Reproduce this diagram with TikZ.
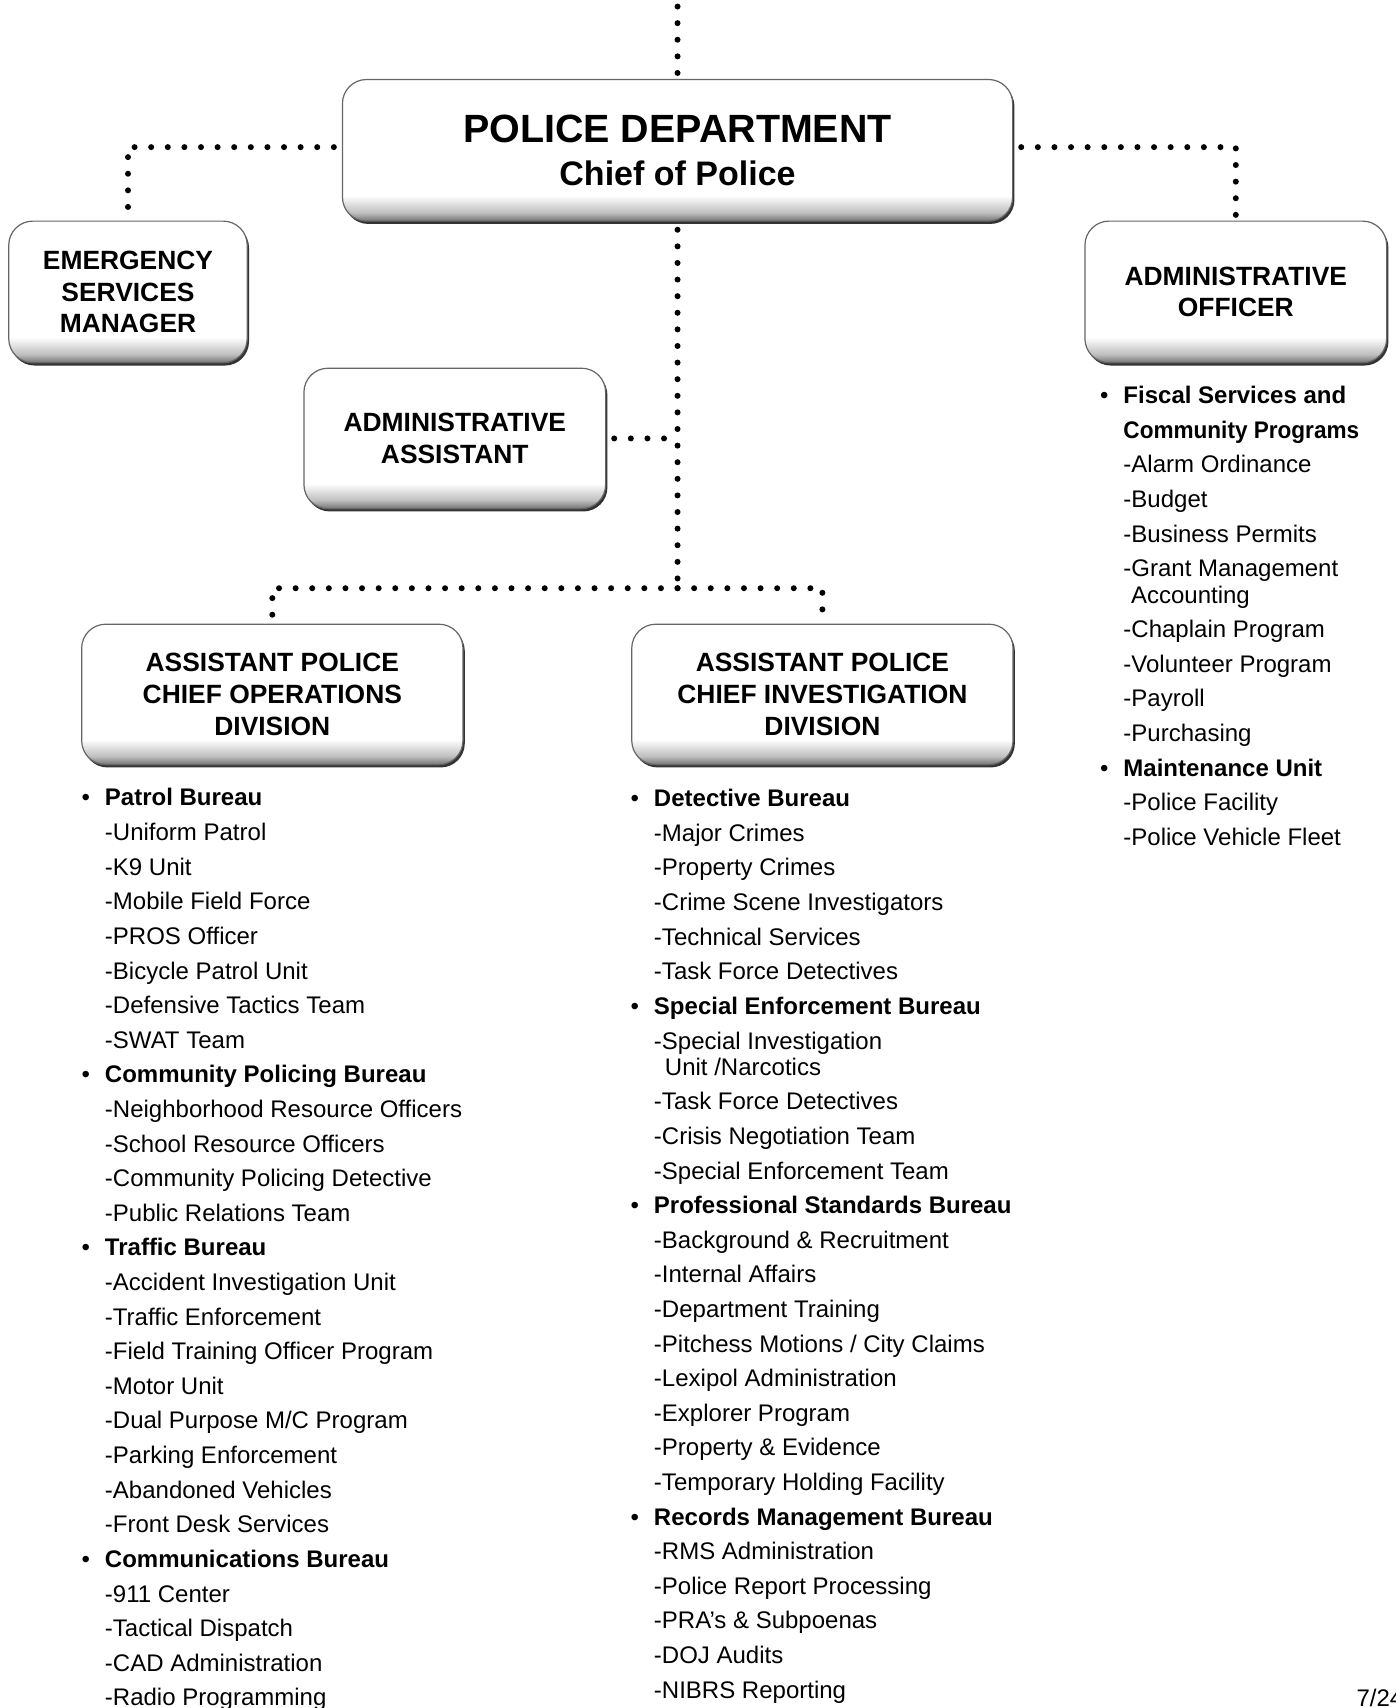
\documentclass[tikz,border=0pt]{standalone}
\usepackage{tikz}
\usepackage{xcolor}
\usepackage{fontspec}
\setmainfont{Liberation Sans}
\usetikzlibrary{shadows}

\pgfdeclareverticalshading{boxshade}{100bp}{color(0bp)=(black!55); color(25bp)=(black!55); color(28bp)=(black!25); color(34bp)=(white); color(100bp)=(white)}

\newcommand{\bureau}[1]{\llap{\textbullet\hspace{7.5pt}}\textbf{#1}}

\tikzset{
	unitbox/.style={rounded corners=12pt, draw=black!60, line width=0.6pt, shading=boxshade,
		drop shadow={shadow xshift=0.9pt, shadow yshift=-1.4pt, opacity=1, fill=black!80},
		align=center, inner sep=0pt, font=\fontsize{13.2}{15.8}\selectfont\bfseries},
	dotline/.style={line width=3pt, line cap=round, dash pattern=on 0pt off 8.3pt, shorten >=3pt},
	unitlist/.style={anchor=base west, align=left, inner sep=0pt, font=\fontsize{12}{17.3}\selectfont}
}

\begin{document}
\begin{tikzpicture}[x=0.5445pt, y=-0.5445pt]
			\useasboundingbox (0,0) rectangle (1281,1568);
			
			\node[unitbox, minimum width=335pt, minimum height=70.8pt, font=\fontsize{17}{21.8}\selectfont\bfseries] (chief) at (622,138)
				{{\fontsize{19.7}{21.8}\selectfont POLICE DEPARTMENT}\\Chief of Police};
			\node[unitbox, minimum width=119.2pt, minimum height=70.8pt] (ems) at (117.5,268) {EMERGENCY\\SERVICES\\MANAGER};
			\node[unitbox, minimum width=150.8pt, minimum height=70.8pt] (aoff) at (1134.5,268) {ADMINISTRATIVE\\OFFICER};
			\node[unitbox, minimum width=150.8pt, minimum height=70.2pt] (asst) at (417.5,402.5) {ADMINISTRATIVE\\ASSISTANT};
			\node[unitbox, minimum width=190.6pt, minimum height=70.2pt] (ops) at (250,637.5) {ASSISTANT POLICE\\CHIEF OPERATIONS\\DIVISION};
			\node[unitbox, minimum width=190.6pt, minimum height=70.2pt] (inv) at (755,637.5) {ASSISTANT POLICE\\CHIEF INVESTIGATION\\DIVISION};
			
			\coordinate (top) at (622,6);
			\coordinate (hub) at (622,540);
			\draw[dotline, shorten >=0pt] (top) -- (chief.north);
			\draw[dotline, shorten <=4pt, shorten >=1pt] ([yshift=1.6pt]chief.west) -| (ems.north);
			\draw[dotline, shorten <=4pt, shorten >=1pt] ([yshift=1.6pt]chief.east) -| (aoff.north);
			\draw[dotline, shorten <=4pt, shorten >=0pt] (chief.south) -- (hub);
			\draw[dotline, shorten <=4pt, shorten >=0pt] (asst.east) -- (asst.east -| hub);
			\draw[dotline] (hub) -| (ops.north);
			\draw[dotline] (hub) -| (inv.north);
			
			\node[unitlist] (opslist) at (96,1566) {\bureau{Patrol Bureau}\\
				-Uniform Patrol\\
				-K9 Unit\\
				-Mobile Field Force\\
				-PROS Officer\\
				-Bicycle Patrol Unit\\
				-Defensive Tactics Team\\
				-SWAT Team\\
				\bureau{Community Policing Bureau}\\
				-Neighborhood Resource Officers\\
				-School Resource Officers\\
				-Community Policing Detective\\
				-Public Relations Team\\
				\bureau{Traffic Bureau}\\
				-Accident Investigation Unit\\
				-Traffic Enforcement\\
				-Field Training Officer Program\\
				-Motor Unit\\
				-Dual Purpose M/C Program\\
				-Parking Enforcement\\
				-Abandoned Vehicles\\
				-Front Desk Services\\
				\bureau{Communications Bureau}\\
				-911 Center\\
				-Tactical Dispatch\\
				-CAD Administration\\
				-Radio Programming};
			
			\node[unitlist] (invlist) at (600,1559) {\bureau{Detective Bureau}\\
				-Major Crimes\\
				-Property Crimes\\
				-Crime Scene Investigators\\
				-Technical Services\\
				-Task Force Detectives\\
				\bureau{Special Enforcement Bureau}\\
				-Special Investigation\\[-4.2pt]
				\hspace*{5.5pt}Unit /Narcotics\\
				-Task Force Detectives\\
				-Crisis Negotiation Team\\
				-Special Enforcement Team\\
				\bureau{Professional Standards Bureau}\\
				-Background \& Recruitment\\
				-Internal Affairs\\
				-Department Training\\
				-Pitchess Motions / City Claims\\
				-Lexipol Administration\\
				-Explorer Program\\
				-Property \& Evidence\\
				-Temporary Holding Facility\\
				\bureau{Records Management Bureau}\\
				-RMS Administration\\
				-Police Report Processing\\
				-PRA’s \& Subpoenas\\
				-DOJ Audits\\
				-NIBRS Reporting};
			
			\node[unitlist] (aofflist) at (1031,776) {\bureau{Fiscal Services and}\\
				\textbf{\scalebox{0.94}[1]{Community Programs}}\\
				-Alarm Ordinance\\
				-Budget\\
				-Business Permits\\
				-Grant Management\\[-4.2pt]
				\hspace*{3.8pt}Accounting\\
				-Chaplain Program\\
				-Volunteer Program\\
				-Payroll\\
				-Purchasing\\
				\bureau{Maintenance Unit}\\
				-Police Facility\\
				-Police Vehicle Fleet};
			
			\node[anchor=base west, inner sep=0pt, font=\fontsize{12}{14}\selectfont] (page) at (1245,1567) {7/24};
		\end{tikzpicture}
\end{document}
